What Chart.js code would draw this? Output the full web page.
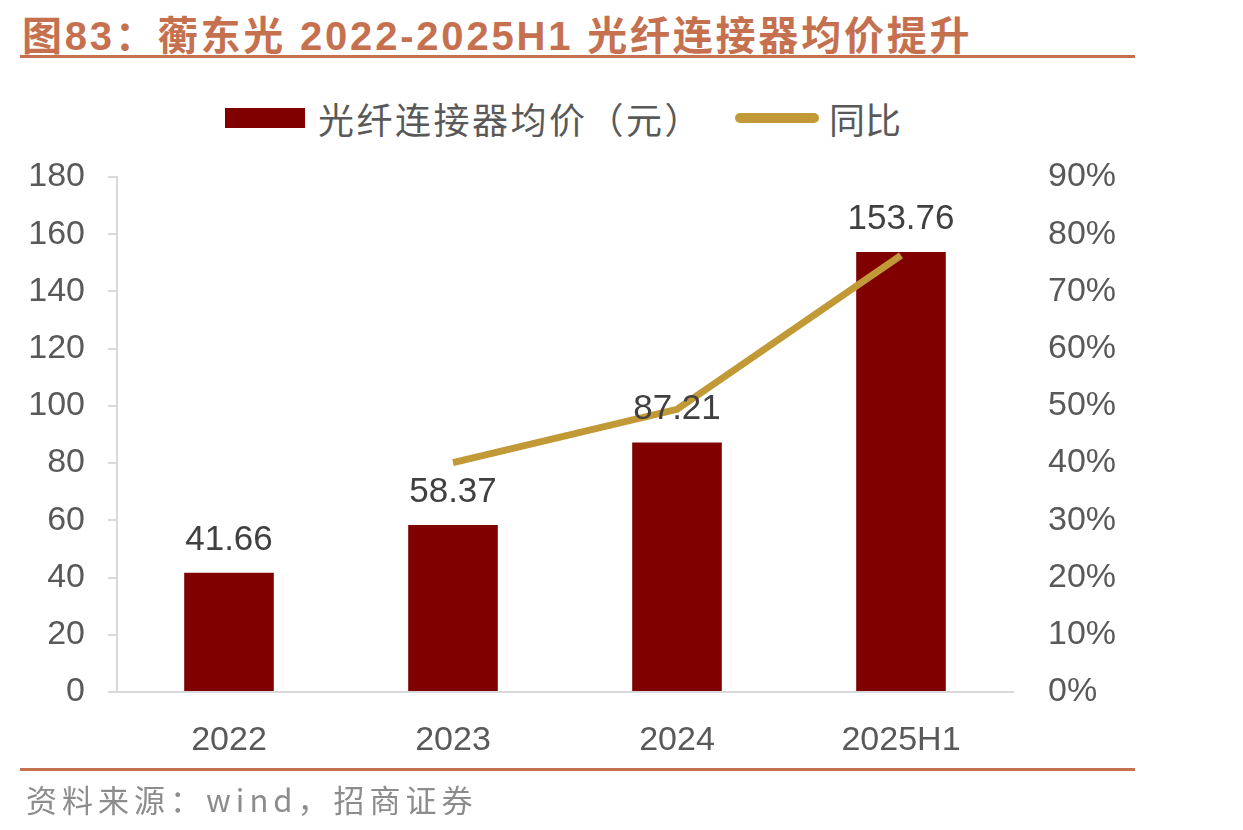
<!DOCTYPE html>
<html>
<head>
<meta charset="utf-8">
<script src="https://cdn.jsdelivr.net/npm/chart.js@4.4.0/dist/chart.umd.min.js"></script>
<style>
  html, body { margin: 0; padding: 0; background: #fff; }
  body { width: 1243px; height: 830px; position: relative; overflow: hidden;
         font-family: "Liberation Sans", Arial, "Noto Sans CJK SC", sans-serif; }
  #chart { position: absolute; left: 0; top: 0; }
  .title { position: absolute; left: 22px; top: 4px; font-size: 40px; font-weight: bold;
           color: #C5714F; white-space: nowrap; letter-spacing: 2.8px; }
  .rule { position: absolute; left: 20px; width: 1115px; height: 3px; background: #C5714F; }
  .legend { position: absolute; top: 96px; left: 225px; height: 44px; display: flex;
            align-items: center; font-size: 36px; color: #595959; white-space: nowrap;
            font-family: "Noto Sans CJK SC", sans-serif; }
  .legend span { letter-spacing: 2.5px; }
  .sw-bar { width: 80px; height: 20px; background: #800000; margin-right: 13px; }
  .sw-line { width: 84px; height: 10px; border-radius: 5px; background: #C19A37;
             margin-left: 32px; margin-right: 10px; }
  .source { position: absolute; left: 26px; top: 776px; font-size: 31px; color: #8C8C8C;
            white-space: nowrap; letter-spacing: 5px; font-family: "Noto Sans CJK SC", sans-serif; }
</style>
</head>
<body>
<div class="title">图83：蘅东光 2022-2025H1 光纤连接器均价提升</div>
<div class="rule" style="top:55px"></div>
<div class="legend">
  <div class="sw-bar"></div><span>光纤连接器均价（元）</span>
  <div class="sw-line"></div><span style="letter-spacing:0">同比</span>
</div>
<canvas id="chart" width="1243" height="830"></canvas>
<div class="rule" style="top:768px"></div>
<div class="source">资料来源：wind，招商证券</div>
<script>
const categories = ['2022', '2023', '2024', '2025H1'];
const avgPrice = [41.66, 58.37, 87.21, 153.76];
const yoyPct = [null, 40.1, 49.4, 76.3];
const priceLabels = ['41.66', '58.37', '87.21', '153.76'];

const tickFont = { family: '"Liberation Sans", Arial, sans-serif', size: 34 };
const tickColor = '#595959';
const axisColor = '#D9D9D9';

// value labels on top of bars
const barLabels = {
  id: 'barLabels',
  afterDatasetsDraw(chart) {
    const ctx = chart.ctx;
    const meta = chart.getDatasetMeta(0);
    ctx.save();
    ctx.font = '35px "Liberation Sans", Arial, sans-serif';
    ctx.fillStyle = '#404040';
    ctx.textAlign = 'center';
    ctx.textBaseline = 'alphabetic';
    meta.data.forEach((bar, i) => {
      ctx.fillText(priceLabels[i], bar.x, bar.y - 23);
    });
    ctx.restore();
  }
};

new Chart(document.getElementById('chart').getContext('2d'), {
  data: {
    labels: categories,
    datasets: [
      {
        type: 'bar',
        label: '光纤连接器均价（元）',
        data: avgPrice,
        backgroundColor: '#800000',
        borderWidth: 0,
        barPercentage: 0.8,
        categoryPercentage: 0.5,
        yAxisID: 'y',
        order: 2
      },
      {
        type: 'line',
        label: '同比',
        data: yoyPct,
        borderColor: '#C19A37',
        borderWidth: 7,
        pointRadius: 0,
        tension: 0,
        yAxisID: 'y1',
        order: 1
      }
    ]
  },
  options: {
    responsive: false,
    devicePixelRatio: 1,
    animation: false,
    layout: { padding: { top: 177, left: 0, right: 0, bottom: 0 } },
    plugins: {
      legend: { display: false },
      tooltip: { enabled: false }
    },
    scales: {
      x: {
        grid: { display: false, drawTicks: false },
        border: { display: true, color: axisColor, width: 2 },
        ticks: { font: tickFont, color: tickColor, padding: 28 },
        afterFit: (s) => { s.height = 138; }
      },
      y: {
        position: 'left',
        min: 0, max: 180,
        ticks: { stepSize: 20, font: tickFont, color: tickColor, padding: 23 },
        grid: { drawOnChartArea: false, drawTicks: true, tickLength: 9, color: axisColor, lineWidth: 2 },
        border: { display: true, color: axisColor, width: 2 },
        afterFit: (s) => { s.width = 117; }
      },
      y1: {
        position: 'right',
        min: 0, max: 90,
        ticks: { stepSize: 10, font: tickFont, color: tickColor, padding: 35,
                 callback: (v) => v + '%' },
        grid: { display: false, drawTicks: false },
        border: { display: false },
        afterFit: (s) => { s.width = 230; }
      }
    }
  },
  plugins: [barLabels]
});
</script>
</body>
</html>
